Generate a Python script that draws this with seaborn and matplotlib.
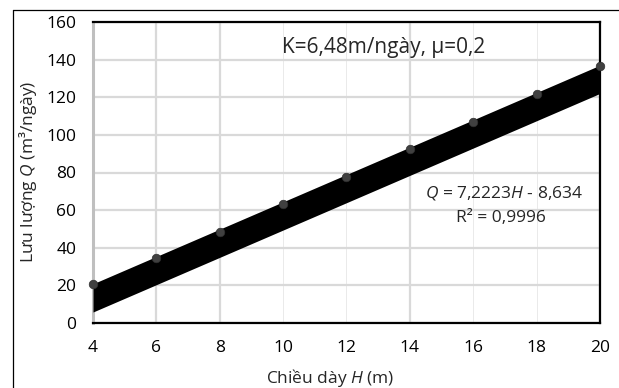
import numpy as np
import pandas as pd
import matplotlib
matplotlib.use("Agg")
import matplotlib.pyplot as plt
from matplotlib.lines import Line2D
import seaborn as sns

# Data
H = [4, 6, 8, 10, 12, 14, 16, 18, 20]
Q = [20.5, 34.5, 48.5, 63, 77.5, 92.5, 107, 121.5, 136.5]
x_ticks = [4, 6, 8, 10, 12, 14, 16, 18, 20]
y_ticks = [0, 20, 40, 60, 80, 100, 120, 140, 160]
title_text = "K=6,48m/ngày, µ=0,2"
eq_text = "$\\mathit{Q}$ = 7,2223$\\mathit{H}$ - 8,634"
r2_text = "R² = 0,9996"

sns.set_theme(style="white")
plt.rcParams['font.family'] = ['Open Sans', 'DejaVu Sans']
plt.rcParams['mathtext.fontset'] = 'custom'
plt.rcParams['mathtext.rm'] = 'Open Sans'
plt.rcParams['mathtext.it'] = 'Open Sans:italic'

df = pd.DataFrame({"H": H, "Q": Q})

fig = plt.figure(figsize=(6.19, 3.88), dpi=100)
ax = fig.add_axes([93/619, 1 - 323/388, (600 - 93)/619, (323 - 22)/388])

# trend band
coef = np.polyfit(df["H"], df["Q"], 1)
xs = np.array([x_ticks[0], x_ticks[-1]], dtype=float)
fit = np.polyval(coef, xs)
ax.fill_between(xs, fit - 14, fit + 1, color="black", lw=0, zorder=3)

sns.scatterplot(data=df, x="H", y="Q", ax=ax, color="#404040", s=38,
                edgecolor="#303030", linewidth=0.5, zorder=4, clip_on=False)

ax.set_xlim(4, 20)
ax.set_ylim(0, 160)
ax.set_xticks(x_ticks)
ax.set_yticks(y_ticks)
ax.tick_params(axis="both", labelsize=12.5, colors="black", length=0)
ax.tick_params(axis="x", pad=12)
ax.tick_params(axis="y", pad=12)

ax.grid(True, color="#d9d9d9", linewidth=1.6, zorder=0)
ax.set_axisbelow(True)
thin = {10, 12, 16, 18}
for v, gl in zip(x_ticks, ax.get_xgridlines()):
    if v in thin:
        gl.set_linewidth(0.6)
        gl.set_color("#e6e6e6")

for s in ["top", "bottom", "right"]:
    ax.spines[s].set_color("black")
    ax.spines[s].set_linewidth(1.6)
ax.spines["left"].set_color("#bfbfbf")
ax.spines["left"].set_linewidth(2.2)

ax.set_xlabel("Chiều dày $\\mathit{H}$ (m)", fontsize=12.5)
ax.set_ylabel("Lưu lượng $\\mathit{Q}$ (m³/ngày)", fontsize=12.5)
ax.xaxis.set_label_coords(330/619, 1 - 378/388, transform=fig.transFigure)
ax.yaxis.set_label_coords(28/619, 1 - 172/388, transform=fig.transFigure)
ax.xaxis.label.set_va("center")
ax.yaxis.label.set_va("center")

fig.text(384/619, 1 - 48/388, title_text, fontsize=15, ha="center", va="center")
fig.text(504/619, 1 - 193/388, eq_text, fontsize=12.5, ha="center", va="center")
fig.text(501/619, 1 - 218/388, r2_text, fontsize=12.5, ha="center", va="center")

# outer chart border
fig.add_artist(Line2D([12.5/619, 12.5/619], [0, 1 - 9.5/388], transform=fig.transFigure,
                      color="black", lw=0.9))
fig.add_artist(Line2D([12.5/619, 1], [1 - 9.5/388, 1 - 9.5/388], transform=fig.transFigure,
                      color="black", lw=0.9))

fig.savefig("out.png", dpi=100)
